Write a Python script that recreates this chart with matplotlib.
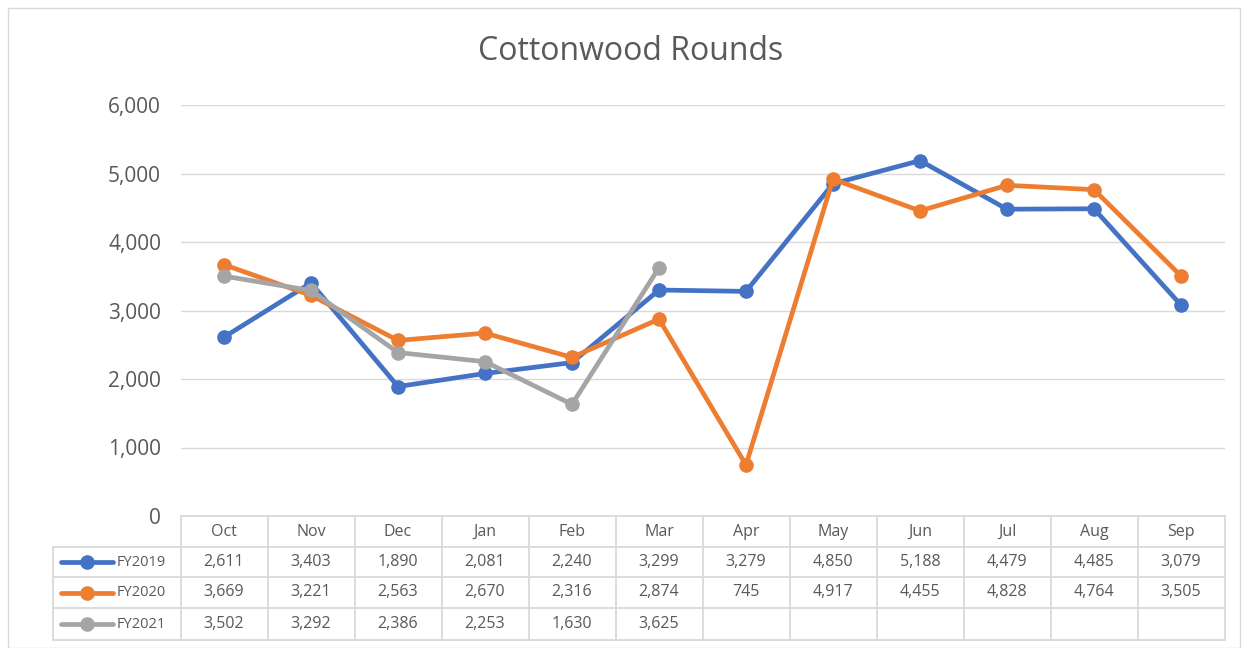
import matplotlib.pyplot as plt
import matplotlib.transforms as mtransforms
from matplotlib.patches import Rectangle
from matplotlib.lines import Line2D
import numpy as np

months = ["Oct", "Nov", "Dec", "Jan", "Feb", "Mar", "Apr", "May", "Jun", "Jul", "Aug", "Sep"]
fy2019 = [2611, 3403, 1890, 2081, 2240, 3299, 3279, 4850, 5188, 4479, 4485, 3079]
fy2020 = [3669, 3221, 2563, 2670, 2316, 2874, 745, 4917, 4455, 4828, 4764, 3505]
fy2021 = [3502, 3292, 2386, 2253, 1630, 3625]
series_names = ["FY2019", "FY2020", "FY2021"]
colors = ["#4472C4", "#ED7D31", "#A5A5A5"]

plt.rcParams['font.family'] = ['Open Sans', 'DejaVu Sans']
txt = "#595959"
grid = "#D9D9D9"

fig = plt.figure(figsize=(12.49, 6.48), dpi=100)
W, H = 1249, 648
fig.patches.append(Rectangle((8 / W, 0), 1232 / W, 640 / H, transform=fig.transFigure,
                             fill=False, edgecolor=grid, lw=1))

ax = fig.add_axes([180.5 / W, 1 - 516 / H, 1044 / W, 411 / H])
x = np.arange(len(months))
series = [fy2019, fy2020, fy2021]
for vals, name, c in zip(series, series_names, colors):
    ax.plot(x[:len(vals)], vals, color=c, lw=3.4, marker='o', ms=9.5, label=name,
            solid_capstyle='round', zorder=3)

ax.set_xlim(-0.5, len(months) - 0.5)
ax.set_ylim(0, 6000)
ax.set_yticks(range(0, 6001, 1000))
ax.set_yticklabels([f"{v:,}" for v in range(0, 6001, 1000)], color=txt, fontsize=15)
ax.tick_params(axis='y', length=0, pad=14)
ax.set_xticks([])
ax.grid(axis='y', color=grid, lw=1)
ax.set_axisbelow(True)
for s in ax.spines.values():
    s.set_visible(False)

fig.text(0.505, 1 - 51 / H, "Cottonwood Rounds", ha='center', va='center', fontsize=23, color=txt)

# data table under the plot
trans = mtransforms.blended_transform_factory(ax.transData, fig.transFigure)
row_tops = [516, 547, 577, 608, 640]
yf = [1 - r / H for r in row_tops]
lkw = dict(color=grid, lw=1.3, transform=trans, clip_on=False)
ax.add_line(Line2D([-0.5, 11.5], [yf[0], yf[0]], **lkw))
for i in range(13):
    ax.add_line(Line2D([i - 0.5, i - 0.5], [yf[0], yf[4]], **lkw))
for r in range(1, 5):
    ax.add_line(Line2D([-0.5, 11.5], [yf[r], yf[r]], **lkw))
# row-label column
for r in range(1, 5):
    fig.add_artist(Line2D([53 / W, 180.5 / W], [yf[r], yf[r]], color=grid, lw=1.3))
fig.add_artist(Line2D([53 / W, 53 / W], [yf[1], yf[4]], color=grid, lw=1.3))

for i, m in enumerate(months):
    ax.text(i, (yf[0] + yf[1]) / 2, m, transform=trans, ha='center', va='center',
            fontsize=11.5, color=txt)
for r, (vals, name, c) in enumerate(zip(series, series_names, colors)):
    yc = (yf[r + 1] + yf[r + 2]) / 2
    for i, v in enumerate(vals):
        ax.text(i, yc, f"{v:,}", transform=trans, ha='center', va='center',
                fontsize=11.5, color=txt)
    fig.add_artist(Line2D([61 / W, 113 / W], [yc, yc], color=c, lw=3.4,
                          solid_capstyle='round'))
    fig.add_artist(Line2D([87 / W], [yc], color=c, marker='o', ms=9.5))
    fig.text(117 / W, yc, name, ha='left', va='center', fontsize=10.5, color=txt)

fig.savefig("out.png", dpi=100)
